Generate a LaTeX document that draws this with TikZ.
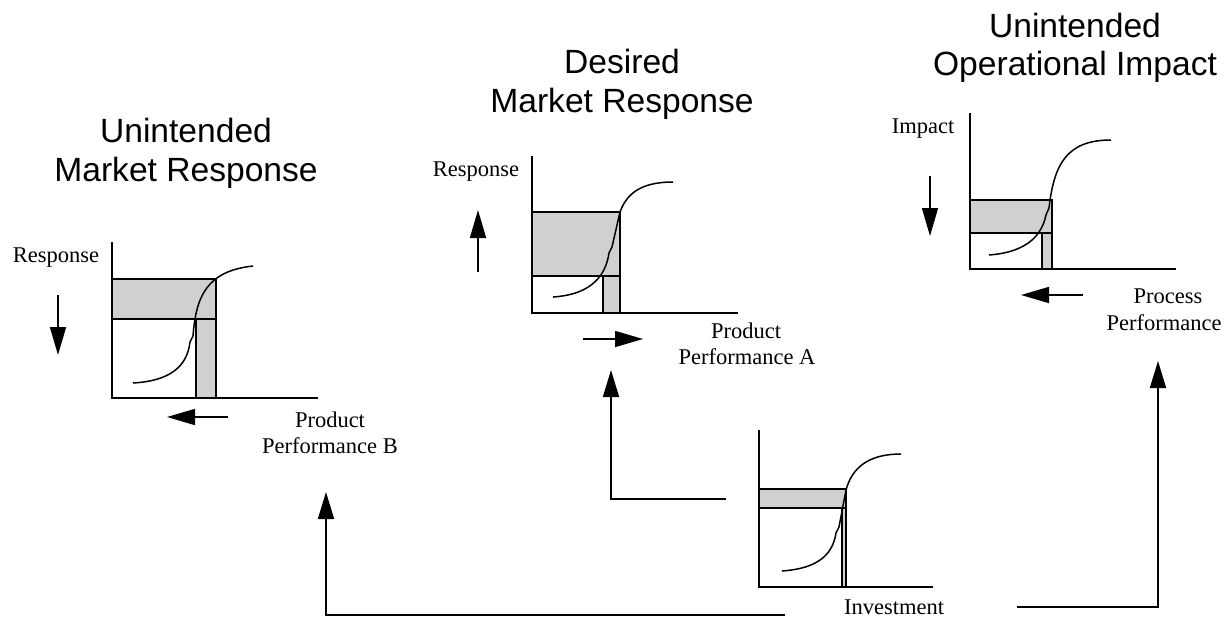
\documentclass[tikz,border=0pt]{standalone}
\usepackage{fontspec}
\setmainfont{Liberation Serif}
\newfontfamily\headfont{Liberation Sans}
\usetikzlibrary{arrows.meta}
\definecolor{bandgray}{RGB}{208,208,208}
\tikzset{
  axis/.style={line width=1.7pt},
  band/.style={fill=bandgray, draw=black, line width=1.4pt},
  scurve/.style={line width=1.5pt, line join=round},
  dirarrow/.style={line width=1.6pt, -{Triangle[length=28pt,width=16pt]}},
  link/.style={line width=1.7pt, -{Triangle[length=27pt,width=16pt]}},
  heading/.style={font=\headfont\fontsize{33.6}{38}\selectfont, inner sep=0pt, anchor=base},
  label/.style={font=\fontsize{22.5}{26}\selectfont, inner sep=0pt, anchor=base}
}
\begin{document}
\begin{tikzpicture}[x=1pt, y=-1pt]
\useasboundingbox (0,0) rectangle (1229,619);

% ---------- headings ----------
\node[heading] (t1a) at (186,142) {Unintended};
\node[heading] (t1b) at (186,181) {Market Response};
\node[heading] (t2a) at (622,73) {Desired};
\node[heading] (t2b) at (622,112) {Market Response};
\node[heading] (t3a) at (1075,37) {Unintended};
\node[heading] (t3b) at (1075,75) {Operational Impact};

% ---------- chart 1: unintended market response ----------
\fill[bandgray] (112,279) rectangle (216,319);
\fill[bandgray] (196,319) rectangle (216,398);
\draw[band, fill=none] (112,279) rectangle (216,319);
\draw[band, fill=none] (196,319) rectangle (216,398);
\draw[scurve] (133,383) .. controls (168,381) and (187,368) .. (190,342) -- (193,336)
  .. controls (196,296) and (207,271) .. (253,266);
\draw[axis] (112,242) -- (112,398) -- (318,398);
\node[label] (r1) at (56,262) {Response};
\node[label] (p1a) at (330,427) {Product};
\node[label] (p1b) at (330,453) {Performance B};
\draw[dirarrow] (58,295) -- (58,355);
\draw[dirarrow] (228,417) -- (167,417);

% ---------- chart 2: desired market response ----------
\fill[bandgray] (532,212) rectangle (620,276);
\fill[bandgray] (603,276) rectangle (620,313);
\draw[band, fill=none] (532,212) rectangle (620,276);
\draw[band, fill=none] (603,276) rectangle (620,313);
\draw[scurve] (553,297) .. controls (585,295) and (605,281) .. (609,253) -- (612,247)
  -- (620,212) .. controls (626,196) and (638,182) .. (673,182);
\draw[axis] (532,156) -- (532,313) -- (738,313);
\node[label] (r2) at (476,176) {Response};
\node[label] (p2a) at (746,338) {Product};
\node[label] (p2b) at (747,364) {Performance A};
\draw[dirarrow] (478,272) -- (478,210);
\draw[dirarrow] (583,339) -- (643,339);

% ---------- chart 3: unintended operational impact ----------
\fill[bandgray] (970,200) rectangle (1052,233);
\fill[bandgray] (1042,233) rectangle (1052,269);
\draw[band, fill=none] (970,200) rectangle (1052,233);
\draw[band, fill=none] (1042,233) rectangle (1052,269);
\draw[scurve] (989,255) .. controls (1015,253) and (1040,244) .. (1046,215) -- (1049,208)
  .. controls (1054,165) and (1066,140) .. (1111,140);
\draw[axis] (970,113) -- (970,269) -- (1176,269);
\node[label] (i3) at (923,133) {Impact};
\node[label] (p3a) at (1168,303) {Process};
\node[label] (p3b) at (1164,330) {Performance};
\draw[dirarrow] (930,176) -- (930,236);
\draw[dirarrow] (1083,295) -- (1021,295);

% ---------- chart 4: investment ----------
\fill[bandgray] (759,489) rectangle (846,508);
\fill[bandgray] (842,508) rectangle (846,587);
\draw[band, fill=none] (759,489) rectangle (846,508);
\draw[band, fill=none] (842,508) rectangle (846,587);
\draw[scurve] (782,571) .. controls (810,569) and (832,560) .. (836,533) -- (839,527)
  -- (846,490) .. controls (852,468) and (868,454) .. (901,454);
\draw[axis] (759,430) -- (759,587) -- (933,587);
\node[label] (inv) at (894,614) {Investment};

% ---------- links from investment to the three effects ----------
\coordinate (aStart) at (726,499);
\coordinate (aBend) at (611,499);
\coordinate (aEnd) at (611,370);
\draw[link] (aStart) -- (aBend) -- (aEnd);

\coordinate (bStart) at (785,615);
\coordinate (bBend) at (326,615);
\coordinate (bEnd) at (326,492);
\draw[link] (bStart) -- (bBend) -- (bEnd);

\coordinate (cStart) at (1017,607);
\coordinate (cBend) at (1158,607);
\coordinate (cEnd) at (1158,361);
\draw[link] (cStart) -- (cBend) -- (cEnd);
\end{tikzpicture}
\end{document}
